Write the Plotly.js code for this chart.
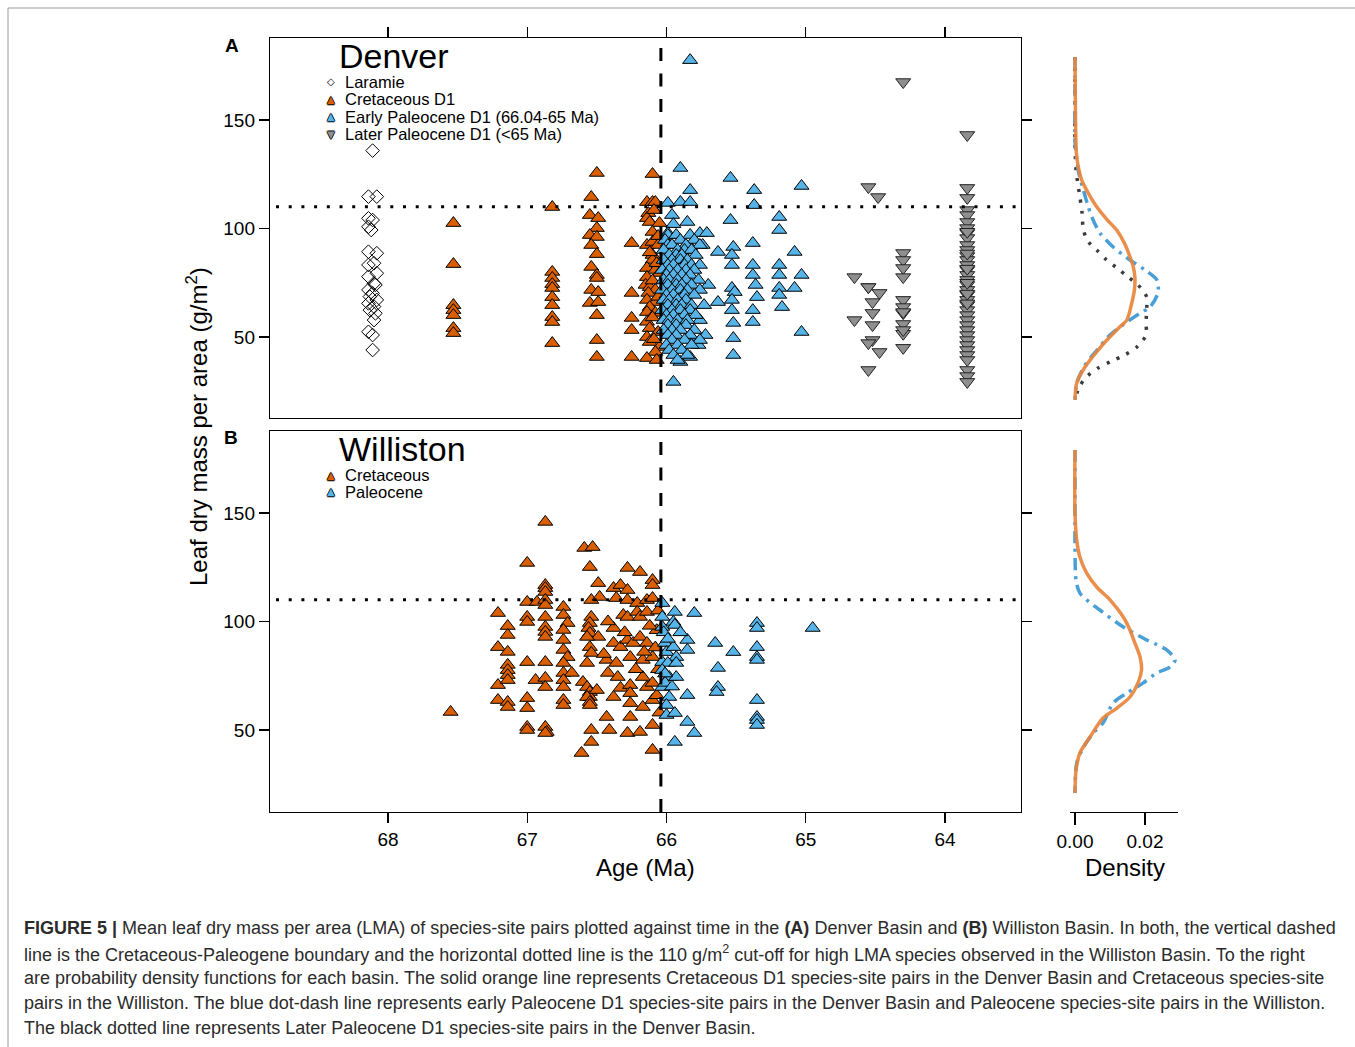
<!DOCTYPE html>
<html>
<head>
<meta charset="utf-8">
<script src="https://cdn.plot.ly/plotly-3.0.1.min.js"></script>
<style>
html,body{margin:0;padding:0;background:#fff;}
#chart{width:1355px;height:1047px;}
</style>
</head>
<body>
<div id="chart"></div>
<script>
// ---------------- DATA (age in Ma, LMA in g/m2) ----------------
// Panel A: Denver Basin
const larAge = [68.11,68.14,68.08,68.14,68.11,68.14,68.12,68.14,68.08,68.10,68.14,68.08,68.14,68.10,68.09,68.14,68.11,68.13,68.08,68.14,68.10,68.13,68.09,68.10,68.14,68.11,68.11];
const larLma = [135.9,114.7,114.7,104.7,103.9,100.8,99.3,89.3,88.6,84.0,83.2,79.4,77.8,74.7,74.0,71.7,70.1,68.6,67.1,65.5,64.0,62.4,60.9,57.8,52.4,50.9,44.0];

const crAAge = [
67.53,67.53,67.53,67.53,67.53,67.53,67.53,
66.82,66.82,66.82,66.82,66.82,66.82,66.82,66.82,66.82,66.82,
66.50,66.54,66.55,66.49,66.50,66.55,66.50,66.54,66.50,66.54,66.50,66.50,66.54,66.49,66.55,66.49,66.50,66.50,66.50,
66.25,66.25,66.25,66.25,66.25,
66.10,66.14,66.10,66.08,66.13,66.14,66.12,66.05,66.10,66.14,66.10,66.06,66.10,66.10,66.14,66.08,66.05,66.14,66.15,66.12,
66.08,66.13,66.14,66.08,66.12,66.14,66.08,66.14,66.12,66.06,66.14,66.12,66.05,66.08,66.14,66.07,
66.09,66.06,66.12,66.07,66.10,66.06,66.10,66.09];
const crALma = [
102.5,83.6,64.7,62.4,60.1,54.1,51.8,
109.9,80.0,77.2,74.4,72.6,68.4,64.7,59.2,56.9,47.2,
125.6,114.5,106.2,104.8,100.2,97.0,96.1,92.4,88.2,82.3,78.6,77.2,71.7,70.7,65.7,66.1,60.1,48.6,40.8,
93.3,70.3,58.8,53.2,40.8,
125.1,112.2,112.2,112.2,107.1,104.8,103.0,102.5,98.4,92.4,93.8,92.4,87.8,85.5,81.8,80.9,79.5,77.6,74.0,73.0,
71.7,70.3,67.1,66.1,63.8,61.5,61.1,57.0,54.1,52.3,50.0,47.7,45.4,43.1,40.3,39.4,
108.5,96.5,89.0,84.0,76.0,68.5,59.0,49.0];

const epAge = [
65.83,65.90,65.54,65.83,65.37,65.03,65.99,65.90,65.83,65.37,65.96,65.19,65.54,
65.85,65.19,65.95,65.99,65.76,65.71,65.99,65.74,65.63,65.52,65.38,65.08,65.89,65.83,65.53,65.53,65.38,65.19,65.19,65.03,65.38,65.36,65.08,65.19,65.19,65.53,65.51,65.70,65.63,65.53,65.53,65.35,65.38,65.17,65.38,65.52,65.03,65.52,65.52,65.72,65.76,65.83,65.77,65.83,65.90,65.95,
65.99,65.93,65.83, 66.01,65.90,65.80, 65.99,65.96,65.86,65.76, 66.02,65.92,65.87,65.82, 65.98,65.93,65.89,65.79,
66.02,65.96,65.90,65.85, 65.99,65.95,65.87,65.82,65.76, 66.03,65.98,65.92,65.86,65.80, 66.00,65.95,65.89,65.83,
66.02,65.98,65.92,65.86,65.77, 65.99,65.93,65.89,65.82, 66.03,65.96,65.90,65.85,65.76, 66.00,65.95,65.87,65.80,
66.02,65.98,65.92,65.86, 65.99,65.93,65.89,65.82,65.73, 66.03,65.96,65.90,65.83, 66.00,65.95,65.87,65.79,
66.02,65.98,65.92,65.85, 65.99,65.93,65.86, 66.02,65.96,65.90,65.80, 65.99,65.93,65.83, 65.96,65.87,65.76,
66.00,65.92,65.82, 65.98,65.89, 65.95,65.85, 65.92];
const epLma = [
177.6,127.9,123.3,117.7,117.7,119.6,111.8,112.2,112.2,110.8,106.2,105.3,103.9,
103.0,99.3,102.0,97.9,97.9,97.9,93.3,92.4,89.2,91.5,93.3,89.2,89.2,91.5,87.8,83.2,83.2,83.2,78.6,78.6,78.6,74.0,72.6,72.6,69.4,72.6,70.7,74.0,66.1,67.1,62.4,68.4,62.4,63.8,56.9,56.5,52.3,49.5,41.7,50.9,57.8,50.0,46.3,40.8,38.5,29.3,
97.0,97.0,97.0, 94.7,94.7,94.7, 92.4,92.4,92.4,92.4, 90.1,90.1,90.1,90.1, 87.8,87.8,87.8,87.8,
85.5,85.5,85.5,85.5, 83.2,83.2,83.2,83.2,83.2, 80.9,80.9,80.9,80.9,80.9, 78.6,78.6,78.6,78.6,
76.3,76.3,76.3,76.3,76.3, 74.0,74.0,74.0,74.0, 71.7,71.7,71.7,71.7,71.7, 69.4,69.4,69.4,69.4,
67.1,67.1,67.1,67.1, 64.7,64.7,64.7,64.7,64.7, 62.4,62.4,62.4,62.4, 60.1,60.1,60.1,60.1,
57.8,57.8,57.8,57.8, 55.5,55.5,55.5, 53.2,53.2,53.2,53.2, 50.9,50.9,50.9, 48.6,48.6,48.6,
46.3,46.3,46.3, 44.0,44.0, 41.7,41.7, 39.4];

const lpAge = [64.30,63.84,64.55,64.48,
63.84,63.84,63.84,63.84,63.84,63.84,63.84,63.84,63.84,63.84,63.84,63.84,63.84,63.84,63.84,
63.84,63.84,63.84,63.84,63.84,63.84,63.84,63.84,63.84,63.84,63.84,63.84,63.84,63.84,63.84,
63.84,63.84,63.84,63.84,63.84,63.84,63.84,63.84,63.84,63.84,63.84,
64.30,64.30,64.30,64.30,64.30,64.30,64.30,64.30,64.30,64.30,64.30,64.30,
64.52,64.55,64.47,64.55,64.65,64.55,64.55,64.47,64.52,64.52,64.65,64.52];
const lpLma = [167.5,143.1,119.1,114.5,
118.7,114.1,108.5,106.2,103.0,100.2,97.9,95.6,92.4,90.1,87.3,85.5,83.2,80.9,78.6,
76.3,74.0,71.7,69.4,67.1,64.7,62.4,60.1,57.8,55.5,53.2,50.9,48.6,46.3,44.0,
41.7,39.4,34.8,32.0,29.3,98.5,88.5,81.5,75.0,70.0,65.5,61.0,56.0,51.5,45.0,
88.7,85.5,81.8,77.6,67.1,63.8,61.5,53.2,48.6,47.2,43.1,34.8,
77.6,73.0,73.0,70.3,66.1,61.1,57.8,55.5,53.2,50.9,50.0,41.7];

// Panel B: Williston Basin
const crBAge = [66.87,66.59,66.53,67.00,66.55,66.28,66.19,66.10,66.87,66.87,66.87,66.49,66.38,66.33,66.28,66.10,
67.00,66.93,66.87,66.87,66.54,66.48,66.36,66.28,66.21,66.14,66.10,67.21,67.00,67.00,66.87,66.87,66.87,66.87,
66.74,66.74,66.71,66.74,66.54,66.55,66.56,66.55,66.49,66.38,66.31,66.28,66.21,66.19,66.14,67.14,67.14,67.21,67.14,
67.00,66.87,66.74,66.74,66.71,66.74,66.57,66.55,66.54,66.57,66.38,66.33,66.28,66.24,66.19,66.14,66.43,66.36,66.26,66.17,66.10,
67.14,67.14,67.14,67.21,67.14,66.94,66.87,66.87,66.74,66.68,66.74,66.74,66.60,66.57,66.55,66.55,66.50,66.42,66.35,66.33,66.26,66.26,66.17,66.14,66.10,
67.21,67.14,67.14,67.00,67.00,66.74,66.74,66.57,66.55,66.55,66.38,66.26,66.26,66.17,66.10,
67.55,67.00,67.00,66.87,66.86,66.87,66.54,66.54,66.43,66.41,66.28,66.19,66.10,66.61,66.10,
66.06,66.07,66.08,66.06,66.07,66.05,66.12,66.16,66.22,66.30,66.42,66.45];
const crBLma = [145.9,133.9,134.3,127.0,125.1,124.7,122.8,119.1,116.8,115.4,113.6,117.7,115.4,116.8,114.5,116.8,
109.0,109.0,109.9,107.6,109.9,111.3,110.8,109.9,108.5,109.9,110.8,103.9,102.1,99.8,102.1,97.5,95.2,92.9,
106.7,103.0,99.3,96.1,102.1,99.3,97.0,94.7,92.9,97.0,103.0,102.1,104.4,102.1,104.4,97.9,93.8,88.2,86.0,
81.3,81.3,91.5,86.9,83.6,80.9,92.9,88.2,85.5,80.9,90.1,88.2,91.5,90.1,92.9,90.1,82.3,80.9,83.6,82.3,83.6,
80.0,77.6,75.3,70.7,73.0,73.0,74.0,69.8,76.3,76.3,73.0,69.8,72.1,69.8,67.5,65.2,68.4,76.3,74.4,69.4,70.7,67.0,74.4,69.8,71.7,
63.8,62.9,60.6,64.7,60.1,63.8,61.5,65.2,62.9,61.5,65.2,62.4,56.0,60.6,63.8,
58.3,51.4,50.0,51.4,49.1,48.6,50.0,44.5,56.0,50.0,48.6,49.1,52.3,39.4,40.8,
105.0,96.0,88.0,78.0,66.0,58.0,98.0,86.0,78.0,95.0,100.0,85.0];

const paBAge = [66.03,65.94,65.80,65.35,65.35,64.95,66.03,65.95,65.94,66.03,65.85,65.85,65.65,65.52,65.35,65.35,65.35,
66.01,66.00,65.95,65.93,66.03,65.99,65.93,65.63,66.03,65.98,65.93,65.63,65.64,65.85,65.98,66.03,66.01,65.35,66.00,
66.00,65.94,65.85,65.35,65.35,65.35,65.80,65.94,66.02,66.01,65.99,65.96,65.90];
const paBLma = [108.5,104.4,103.9,99.3,97.0,97.0,102.1,99.8,98.4,97.5,91.5,86.9,90.1,85.9,88.2,83.6,82.3,
90.1,85.9,88.2,83.6,81.3,80.9,80.9,78.6,77.6,74.4,74.4,69.8,67.5,66.1,65.2,69.8,71.7,63.8,61.5,
56.9,57.8,53.7,56.0,54.6,52.3,48.6,44.5,95.0,76.0,92.0,70.0,95.0];

// Density curves: LMA value and density
const dAcrLma  = [179,160,145,133,122.4,116.3,110,104,99.3,93,87,82,77.8,72,65.5,57.8,54.8,50.1,44,36.3,28.8,24,21];
const dAcrDen  = [0,0.0001,0.0002,0.0005,0.0019,0.0038,0.0062,0.0092,0.0119,0.0142,0.0157,0.0167,0.0171,0.0170,0.0162,0.0148,0.0129,0.0100,0.0066,0.0029,0.0005,0.0001,0];
const dAepLma  = [179,160,140,127,117.7,110,105.3,98,91.5,85.5,80.9,76.3,70.3,63.8,61,56.9,50.9,44,37.1,28.8,21];
const dAepDen  = [0,0,0,0.0009,0.0024,0.0038,0.0048,0.0071,0.0109,0.0157,0.0200,0.0234,0.0237,0.0214,0.0186,0.0148,0.0100,0.0063,0.0029,0.0005,0];
const dAlpLma  = [179,160,139.4,127,114.5,107.6,100.7,94.7,90.1,85.5,81.8,77.6,74,68.4,63.4,56.5,50.9,45.4,41.7,38.9,35.7,31.6,27,21];
const dAlpDen  = [0,0,0,0.0003,0.0014,0.0020,0.0023,0.0034,0.0062,0.0090,0.0120,0.0152,0.0180,0.0205,0.0205,0.0203,0.0203,0.0177,0.0142,0.0105,0.0066,0.0033,0.0012,0];
const dBcrLma  = [179,150,137.6,129.7,122.4,115.9,110,102.1,96.1,90.1,83.6,77.6,71.7,65.2,60.1,55.5,46.8,39.4,31.6,21];
const dBcrDen  = [0,0,0.0005,0.0014,0.0033,0.0062,0.0100,0.0138,0.0157,0.0171,0.0186,0.0190,0.0180,0.0157,0.0120,0.0080,0.0043,0.0014,0.0003,0];
const dBpaLma  = [179,150,134.3,119.1,113.1,105.3,97.5,91.5,86.9,82.3,79,76.3,71.7,67,62.4,53.2,48.6,42,34.8,21];
const dBpaDen  = [0,0,0,0.0003,0.0014,0.0071,0.0138,0.0205,0.0262,0.0286,0.0271,0.0234,0.0195,0.0148,0.0109,0.0080,0.0052,0.0024,0.0005,0];

const ageTicks = [68,67,66,65,64];
const lmaTicks = [50,100,150];
const densTicks = [0,0.02];
const densTickText = ['0.00','0.02'];
const kpgBoundary = 66.04;
const highLmaCut = 110;

// ---------------- STYLE ----------------
const FONT = 'Arial, "Liberation Sans", Helvetica, sans-serif';
const W = 1355, H = 1047;
const px = v => v / W;
const py = v => 1 - v / H;
const ORANGE = '#d95f02', BLUE = '#56b4e9', GRAY = '#8f8f8f';

function tri(x, y, xa, ya, sym, fill, edge, size) {
  return {type:'scatter', mode:'markers', x:x, y:y, xaxis:xa, yaxis:ya, showlegend:false, hoverinfo:'skip',
    marker:{symbol:sym, size:size, color:fill, line:{color:edge, width:1}}};
}
function dens(x, y, xa, ya, color, dash, width) {
  return {type:'scatter', mode:'lines', x:x, y:y, xaxis:xa, yaxis:ya, showlegend:false, hoverinfo:'skip',
    line:{color:color, width:width, dash:dash, shape:'spline', smoothing:0.8}};
}

const traces = [
  tri(larAge, larLma, 'x2', 'y2', 'diamond-open', '#000', '#000', 10.5),
  tri(crAAge, crALma, 'x2', 'y2', 'triangle-up', ORANGE, '#000', 13),
  tri(epAge, epLma, 'x2', 'y2', 'triangle-up', BLUE, '#000', 13),
  tri(lpAge, lpLma, 'x2', 'y2', 'triangle-down', GRAY, '#222', 13),
  tri(crBAge, crBLma, 'x', 'y', 'triangle-up', ORANGE, '#000', 13),
  tri(paBAge, paBLma, 'x', 'y', 'triangle-up', BLUE, '#000', 13),
  dens(dAlpDen, dAlpLma, 'x3', 'y3', '#3c3c3c', '3px,8px', 3.5),
  dens(dAepDen, dAepLma, 'x3', 'y3', '#4a9fd6', '12px,6px,3px,6px', 3.5),
  dens(dAcrDen, dAcrLma, 'x3', 'y3', 'rgba(232,132,60,0.92)', 'solid', 3.5),
  dens(dBpaDen, dBpaLma, 'x4', 'y4', '#4a9fd6', '12px,6px,3px,6px', 3.5),
  dens(dBcrDen, dBcrLma, 'x4', 'y4', 'rgba(232,132,60,0.92)', 'solid', 3.5)
];

const tickFont = {family:FONT, size:19, color:'#000'};
const baseAx = {showgrid:false, zeroline:false, showline:true, linecolor:'#000', linewidth:1.2,
  ticks:'outside', ticklen:10, tickwidth:1.2, tickcolor:'#000', tickfont:tickFont, fixedrange:true};
const xRange = [68.847, 63.454];
const densRange = [-0.00143, 0.02943];

const layout = {
  width:W, height:H, autosize:false,
  margin:{l:0, r:0, t:0, b:0, pad:0},
  paper_bgcolor:'#fff', plot_bgcolor:'rgba(0,0,0,0)',
  showlegend:false,
  xaxis: Object.assign({}, baseAx, {domain:[px(270), px(1021)], range:xRange, anchor:'y', tickvals:ageTicks, mirror:true}),
  xaxis2: Object.assign({}, baseAx, {domain:[px(270), px(1021)], range:xRange, anchor:'y2', side:'top', tickvals:ageTicks, showticklabels:false, mirror:true}),
  yaxis: Object.assign({}, baseAx, {domain:[py(812), py(431)], range:[12.2, 187.8], anchor:'x', tickvals:lmaTicks, mirror:'allticks'}),
  yaxis2: Object.assign({}, baseAx, {domain:[py(418), py(38)], range:[12.67, 187.8], anchor:'x2', tickvals:lmaTicks, mirror:'allticks'}),
  xaxis3: {domain:[px(1070), px(1178)], range:densRange, anchor:'y3', visible:false, fixedrange:true},
  yaxis3: {domain:[py(418), py(38)], range:[12.67, 187.8], anchor:'x3', visible:false, fixedrange:true},
  xaxis4: Object.assign({}, baseAx, {domain:[px(1070), px(1178)], range:densRange, anchor:'y4', tickvals:densTicks, ticktext:densTickText, ticklen:12}),
  yaxis4: {domain:[py(812), py(431)], range:[12.2, 187.8], anchor:'x4', visible:false, fixedrange:true},
  shapes: [
    {type:'line', xref:'x2', yref:'y2 domain', x0:kpgBoundary, x1:kpgBoundary, y0:0, y1:1, line:{color:'#000', width:3, dash:'13px,12.5px'}},
    {type:'line', xref:'x', yref:'y domain', x0:kpgBoundary, x1:kpgBoundary, y0:0, y1:1, line:{color:'#000', width:3, dash:'13px,12.5px'}},
    {type:'line', xref:'x2 domain', yref:'y2', x0:0.008, x1:1, y0:highLmaCut, y1:highLmaCut, line:{color:'#000', width:3, dash:'3px,9.7px'}},
    {type:'line', xref:'x domain', yref:'y', x0:0.008, x1:1, y0:highLmaCut, y1:highLmaCut, line:{color:'#000', width:3, dash:'3px,9.7px'}},
    {type:'rect', xref:'paper', yref:'paper', x0:px(8), x1:1.01, y0:-0.01, y1:py(8), line:{color:'#9a9a9a', width:1}, fillcolor:'rgba(0,0,0,0)', layer:'below'}
  ],
  annotations: []
};

const A = layout.annotations;
function txt(x, y, text, size, opts) {
  A.push(Object.assign({xref:'paper', yref:'paper', x:px(x), y:py(y), text:text, showarrow:false,
    xanchor:'left', yanchor:'middle', font:{family:FONT, size:size, color:'#000'}}, opts || {}));
}
// panel letters and basin titles
txt(232, 46, '<b>A</b>', 19, {xanchor:'center'});
txt(231, 437, '<b>B</b>', 19, {xanchor:'center'});
txt(337, 56, 'Denver', 34);
txt(337, 449, 'Williston', 34);
// legend text
const legA = ['Laramie', 'Cretaceous D1', 'Early Paleocene D1 (66.04-65 Ma)', 'Later Paleocene D1 (&lt;65 Ma)'];
const legAy = [82, 99, 116.5, 134];
legA.forEach((t, i) => txt(343, legAy[i], t, 16.5));
const legB = ['Cretaceous', 'Paleocene'];
const legBy = [475, 492];
legB.forEach((t, i) => txt(343, legBy[i], t, 16.5));
// legend glyphs
const outline = '-0.7px 0 0 #000, 0.7px 0 0 #000, 0 -0.7px 0 #000, 0 0.7px 0 #000';
function glyph(y, ch, color, sh) {
  A.push({xref:'paper', yref:'paper', x:px(331), y:py(y), text:ch, showarrow:false, xanchor:'center', yanchor:'middle',
    font:{family:'"DejaVu Sans", sans-serif', size:10, color:color, shadow: sh ? outline : 'none'}});
}
glyph(82, '◇', '#000', false);
glyph(99, '▲', ORANGE, true);
glyph(116.5, '▲', BLUE, true);
glyph(134, '▼', GRAY, true);
glyph(475, '▲', ORANGE, true);
glyph(492, '▲', BLUE, true);
// axis titles
txt(645, 867, 'Age (Ma)', 24, {xanchor:'center'});
txt(1125, 867, 'Density', 24, {xanchor:'center'});
txt(197, 427, 'Leaf dry mass per area (g/m<sup>2</sup>)', 24, {xanchor:'center', textangle:-90});
// caption
const capLines = [
  '<b>FIGURE 5 |</b> Mean leaf dry mass per area (LMA) of species-site pairs plotted against time in the <b>(A)</b> Denver Basin and <b>(B)</b> Williston Basin. In both, the vertical dashed',
  'line is the Cretaceous-Paleogene boundary and the horizontal dotted line is the 110 g/m<sup>2</sup> cut-off for high LMA species observed in the Williston Basin. To the right',
  'are probability density functions for each basin. The solid orange line represents Cretaceous D1 species-site pairs in the Denver Basin and Cretaceous species-site',
  'pairs in the Williston. The blue dot-dash line represents early Paleocene D1 species-site pairs in the Denver Basin and Paleocene species-site pairs in the Williston.',
  'The black dotted line represents Later Paleocene D1 species-site pairs in the Denver Basin.'
];
capLines.forEach((t, i) => txt(22, 928 + 25 * i, t, 18, {font:{family:FONT, size:18, color:'#2b2b2b'}}));

Plotly.newPlot('chart', traces, layout, {staticPlot:true, displayModeBar:false});
</script>
</body>
</html>
